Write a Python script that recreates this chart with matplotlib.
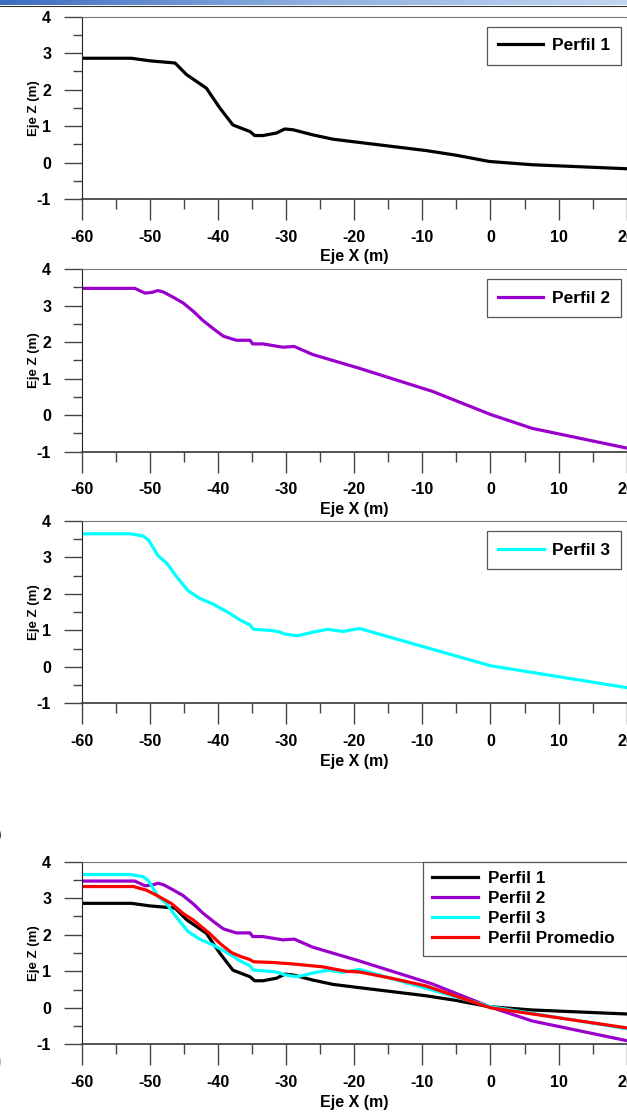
import numpy as np
import matplotlib
matplotlib.use("Agg")
import matplotlib.pyplot as plt
from matplotlib.ticker import MultipleLocator
from matplotlib.colors import LinearSegmentedColormap

plt.rcParams['font.family'] = ['Liberation Sans', 'DejaVu Sans']
plt.rcParams['axes.unicode_minus'] = False

# perfiles (x en m, z en m)
x_p1 = [-60, -52.7, -50, -46.3, -44.6, -41.7, -39.7, -37.8, -35.3, -34.6, -33.4, -31.4, -30.2, -29.0,
        -26.1, -23.1, -19.2, -9.5, -5.0, -0.2, 6.1, 20]
z_p1 = [2.86, 2.86, 2.79, 2.73, 2.41, 2.04, 1.49, 1.03, 0.85, 0.74, 0.74, 0.81, 0.92, 0.90,
        0.76, 0.64, 0.55, 0.33, 0.20, 0.03, -0.06, -0.17]

x_p2 = [-60, -52.2, -50.7, -49.7, -48.8, -48.0, -46.6, -45.1, -43.6, -42.2, -40.5, -39.2, -37.3, -35.3,
        -34.9, -33.4, -30.5, -28.8, -26.1, -19.2, -8.5, 0, 6.1, 20]
z_p2 = [3.47, 3.47, 3.34, 3.36, 3.41, 3.37, 3.23, 3.07, 2.84, 2.59, 2.34, 2.16, 2.05, 2.05,
        1.95, 1.95, 1.86, 1.88, 1.66, 1.28, 0.65, 0.02, -0.36, -0.90]

x_p3 = [-60, -52.9, -51.0, -50.2, -48.8, -47.5, -46.1, -44.4, -42.7, -40.7, -38.3, -36.8, -35.3, -34.8,
        -32.4, -31.2, -30.2, -28.3, -26.1, -23.9, -21.7, -19.2, 0, 20]
z_p3 = [3.65, 3.65, 3.59, 3.48, 3.05, 2.84, 2.48, 2.09, 1.88, 1.72, 1.47, 1.29, 1.15, 1.03,
        1.00, 0.97, 0.90, 0.85, 0.95, 1.03, 0.97, 1.05, 0.03, -0.57]

x_prom = [-60, -52.4, -50.5, -49.0, -46.8, -45.1, -43.6, -41.2, -39.7, -38.0, -36.6, -35.3, -34.8,
          -31.9, -29.0, -24.6, -21.2, -19.2, -14.3, -9.5, 0, 20]
z_prom = [3.32, 3.32, 3.22, 3.08, 2.85, 2.58, 2.40, 2.03, 1.76, 1.51, 1.40, 1.32, 1.26,
          1.24, 1.20, 1.12, 1.00, 0.98, 0.80, 0.60, 0.0, -0.55]

nombres = ["Perfil 1", "Perfil 2", "Perfil 3", "Perfil Promedio"]
colores = ["#000000", "#9900CC", "#00FFFF", "#FF0000"]

W, H = 627, 1113
fig = plt.figure(figsize=(W / 100, H / 100), dpi=100)

# barra azul de la cabecera del documento
ax_bar = fig.add_axes([0, 1 - 5 / H, 1, 5 / H])
grad = LinearSegmentedColormap.from_list("g", ["#3d6cc0", "#8fb0e0", "#c3d6f1"])
ax_bar.imshow(np.linspace(0, 1, 256)[None, :], aspect="auto", cmap=grad)
ax_bar.axis("off")
fig.add_artist(plt.Line2D([0, 1], [1 - 6 / H, 1 - 6 / H], color="#333333", lw=0.8))


def panel(top_px, bottom_px):
    left = 81.7
    right = 626.7
    ax = fig.add_axes([left / W, (H - bottom_px) / H, (right - left) / W, (bottom_px - top_px) / H])
    ax.set_xlim(-60, 20)
    ax.set_ylim(-1, 4)
    ax.xaxis.set_major_locator(MultipleLocator(10))
    ax.xaxis.set_minor_locator(MultipleLocator(5))
    ax.yaxis.set_major_locator(MultipleLocator(1))
    ax.yaxis.set_minor_locator(MultipleLocator(0.5))
    ax.tick_params(which="major", direction="out", length=15, width=1, color="#444444",
                   labelsize=11.5, pad=7)
    ax.tick_params(which="minor", direction="out", length=7.5, width=1, color="#444444")
    ax.tick_params(axis="y", which="major", length=13, pad=9)
    ax.tick_params(axis="y", which="minor", length=6.5)
    for lab in ax.get_xticklabels() + ax.get_yticklabels():
        lab.set_fontweight("bold")
    for s in ["top", "right"]:
        ax.spines[s].set_color("#777777")
    ax.spines["left"].set_color("#222222")
    ax.spines["bottom"].set_color("#444444")
    ax.spines["bottom"].set_linewidth(1.3)
    ax.set_xlabel("Eje X (m)", fontsize=11.5, fontweight="bold", labelpad=3.5)
    ax.set_ylabel("Eje Z (m)", fontsize=9.5, fontweight="bold", labelpad=-2.5)
    return ax


def leyenda(ax, **kw):
    leg = ax.legend(fancybox=False, framealpha=1, edgecolor="#555555", **kw)
    leg.get_frame().set_linewidth(0.9)
    return leg


estilo_sola = dict(loc="upper right", handlelength=2.6, handletextpad=0.5, borderpad=0.65,
                   prop={"weight": "bold", "size": 12.5}, borderaxespad=0.3,
                   bbox_to_anchor=(1.0, 1 - 5 / 182))

ax1 = panel(16.7, 199)
ax1.plot(x_p1, z_p1, color=colores[0], lw=2.3, label=nombres[0])
leyenda(ax1, **estilo_sola)

ax2 = panel(269, 451.7)
ax2.plot(x_p2, z_p2, color=colores[1], lw=2.3, label=nombres[1])
leyenda(ax2, **estilo_sola)

ax3 = panel(521, 703.3)
ax3.plot(x_p3, z_p3, color=colores[2], lw=2.3, label=nombres[2])
leyenda(ax3, **estilo_sola)

ax4 = panel(861.7, 1044.3)
ax4.plot(x_p1, z_p1, color=colores[0], lw=2.3, label=nombres[0])
ax4.plot(x_p2, z_p2, color=colores[1], lw=2.3, label=nombres[1])
ax4.plot(x_p3, z_p3, color=colores[2], lw=2.3, label=nombres[2])
ax4.plot(x_prom, z_prom, color=colores[3], lw=2.3, label=nombres[3])
leyenda(ax4, loc="upper left", bbox_to_anchor=(0.626, 0.0, 0.5, 1.0), mode="expand",
        borderaxespad=0, handlelength=2.7, handletextpad=0.55,
        prop={"weight": "bold", "size": 12.3}, labelspacing=0.3, borderpad=0.55)

# restos de etiquetas cortadas en el margen izquierdo
fig.text(-3 / W, 1 - 835 / H, ")", fontsize=10, va="center", ha="left")
fig.text(-3 / W, 1 - 1062 / H, ")", fontsize=10, va="center", ha="left", color="#999999")

fig.savefig("out.png", dpi=100)
